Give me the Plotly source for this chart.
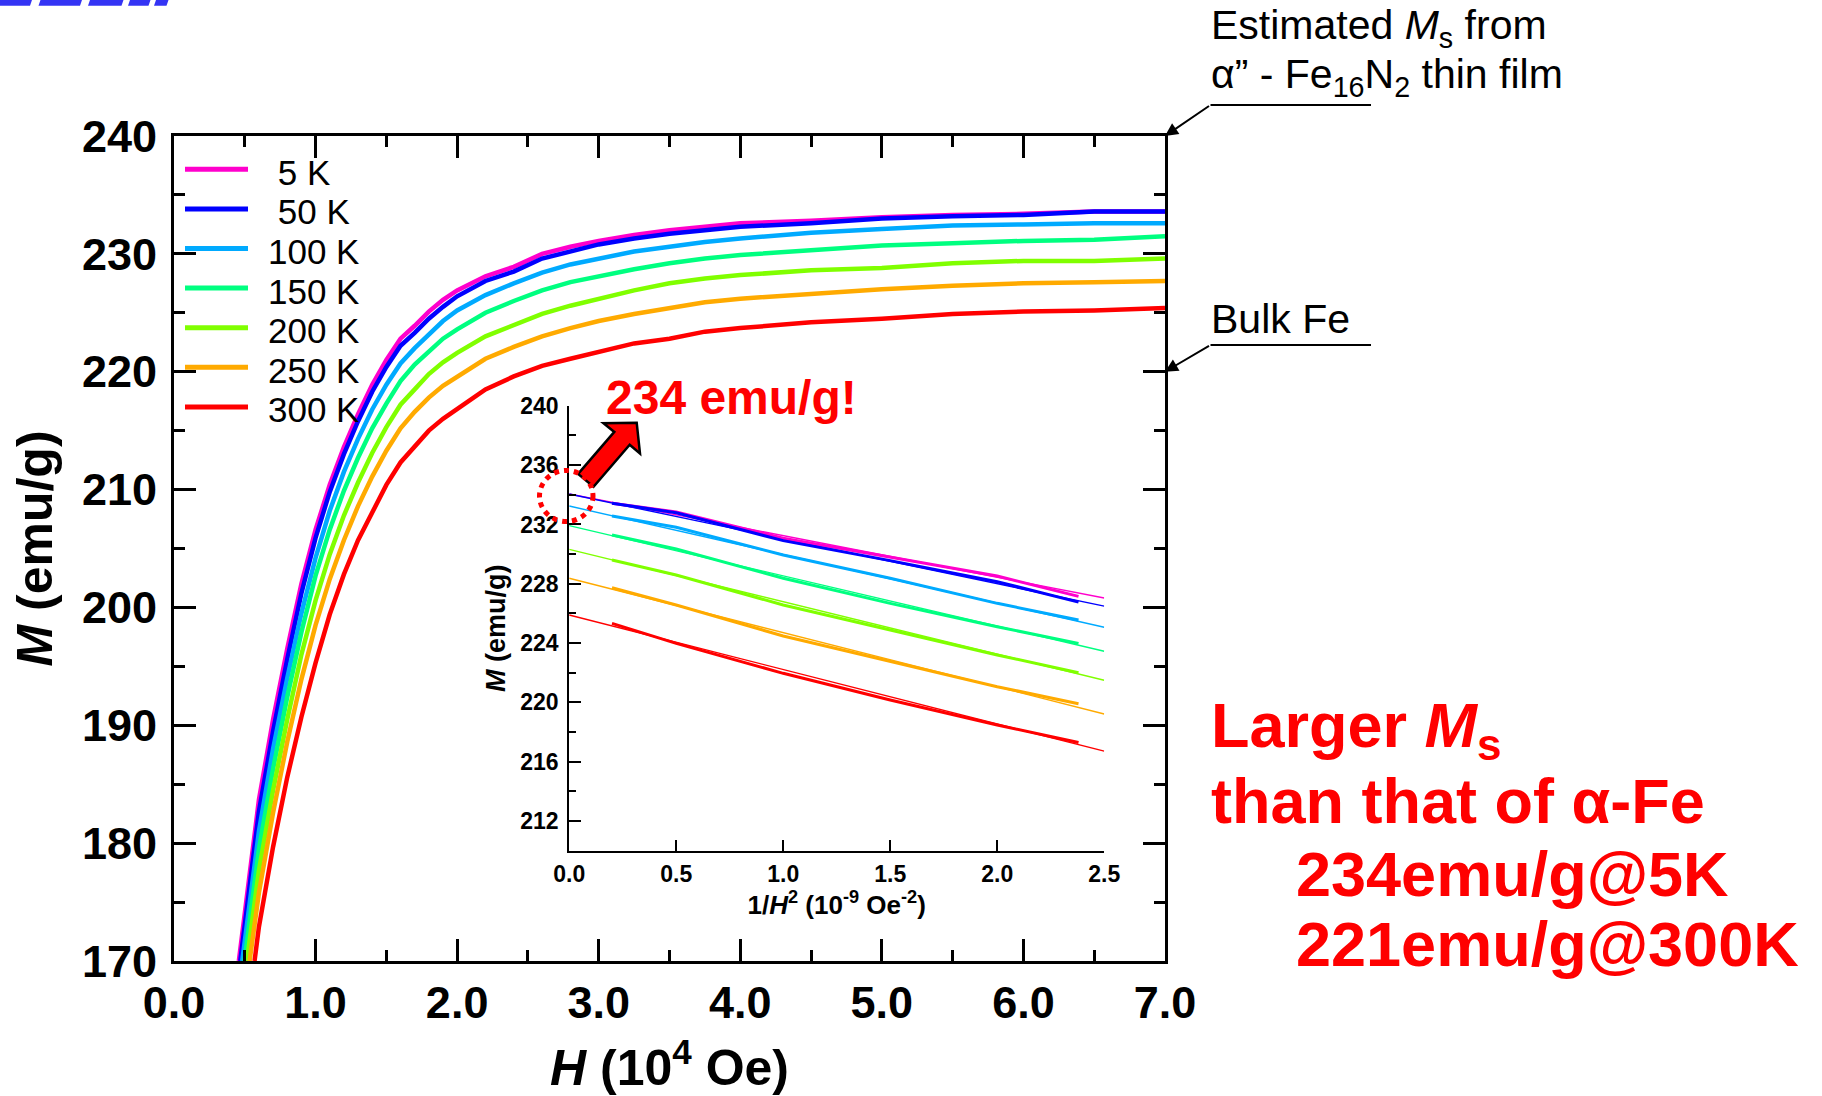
import plotly.graph_objects as go

# ---------------- data ----------------
TEMPS = ["5 K", "50 K", "100 K", "150 K", "200 K", "250 K", "300 K"]
COLORS = ["#FF00CC", "#0000FF", "#00AAFF", "#00FF80", "#80FF00", "#FFAA00", "#FF0000"]

# field (10^4 Oe) at which each M(H) curve rises through 170 emu/g
H_START = [0.458, 0.468, 0.482, 0.498, 0.515, 0.534, 0.569]

H_GRID = [0.6, 0.7, 0.8, 0.9, 1.0, 1.1, 1.2, 1.3, 1.4, 1.5, 1.6, 1.7, 1.8, 1.9, 2.0,
          2.2, 2.4, 2.6, 2.8, 3.0, 3.25, 3.5, 3.75, 4.0, 4.5, 5.0, 5.5, 6.0, 6.5, 7.0]

M_5K = [183.7, 190.5, 196.5, 202.0, 206.6, 210.4, 213.6, 216.4, 218.9, 221.0, 222.8, 223.9, 225.1, 226.1, 226.9,
        228.1, 228.9, 230.0, 230.6, 231.1, 231.6, 232.0, 232.3, 232.6, 232.8, 233.1, 233.3, 233.4, 233.6, 233.6]
M_50K = [182.7, 189.5, 195.6, 201.2, 205.9, 209.8, 213.0, 215.8, 218.3, 220.4, 222.2, 223.3, 224.5, 225.5, 226.4,
         227.7, 228.5, 229.6, 230.2, 230.8, 231.3, 231.7, 232.0, 232.3, 232.6, 233.0, 233.2, 233.3, 233.6, 233.6]
M_100K = [181.0, 188.0, 194.0, 199.5, 204.2, 208.2, 211.5, 214.3, 216.8, 218.9, 220.7, 222.0, 223.2, 224.3, 225.2,
          226.5, 227.5, 228.4, 229.1, 229.6, 230.2, 230.6, 231.0, 231.3, 231.8, 232.1, 232.4, 232.5, 232.6, 232.6]
M_150K = [179.5, 186.3, 192.4, 197.9, 202.7, 206.6, 209.9, 212.7, 215.2, 217.3, 219.2, 220.6, 221.7, 222.8, 223.6,
          225.0, 226.0, 226.9, 227.6, 228.1, 228.7, 229.2, 229.6, 229.9, 230.3, 230.7, 230.9, 231.1, 231.2, 231.5]
M_200K = [177.7, 184.5, 190.5, 196.0, 200.6, 204.5, 207.8, 210.6, 213.1, 215.3, 217.2, 218.5, 219.8, 220.8, 221.6,
          223.0, 224.0, 224.9, 225.6, 226.2, 226.9, 227.5, 227.9, 228.2, 228.6, 228.8, 229.2, 229.4, 229.4, 229.6]
M_250K = [175.8, 182.6, 188.6, 193.9, 198.5, 202.4, 205.7, 208.6, 211.1, 213.3, 215.2, 216.6, 217.8, 218.8, 219.6,
          221.1, 222.1, 223.0, 223.7, 224.3, 224.9, 225.4, 225.9, 226.2, 226.6, 227.0, 227.3, 227.5, 227.6, 227.7]
M_300K = [172.9, 179.7, 185.6, 190.7, 195.3, 199.4, 202.8, 205.7, 208.0, 210.4, 212.3, 213.7, 215.0, 216.0, 216.8,
          218.5, 219.6, 220.5, 221.1, 221.7, 222.4, 222.8, 223.4, 223.7, 224.2, 224.5, 224.9, 225.1, 225.2, 225.4]
M_CURVES = [M_5K, M_50K, M_100K, M_150K, M_200K, M_250K, M_300K]

# inset: M versus 1/H^2 (10^-9 Oe^-2)
INV_H2 = [0.2, 0.5, 1.0, 1.5, 2.0, 2.38]
D_5K = [233.43, 232.84, 231.07, 229.78, 228.52, 227.15]
D_50K = [233.43, 232.79, 230.91, 229.56, 228.14, 226.76]
D_100K = [232.57, 231.81, 229.94, 228.37, 226.68, 225.56]
D_150K = [231.29, 230.34, 228.37, 226.68, 225.10, 223.98]
D_200K = [229.60, 228.59, 226.57, 224.88, 223.20, 222.00]
D_250K = [227.73, 226.57, 224.48, 222.75, 221.06, 219.91]
D_300K = [225.33, 223.98, 221.96, 220.16, 218.48, 217.29]
D_CURVES = [D_5K, D_50K, D_100K, D_150K, D_200K, D_250K, D_300K]

# linear extrapolations: value at 1/H^2 = 0 and at 1/H^2 = 2.5
FIT_X = [0.0, 2.5]
FIT_M0 = [234.05, 234.05, 233.24, 231.92, 230.32, 228.37, 225.89]
FIT_M25 = [227.04, 226.49, 225.07, 223.45, 221.49, 219.22, 216.71]

# ---------------- layout helpers ----------------
W, HGT = 1822, 1096
ML, MR, MT, MB = 174, 657, 136, 135
PW = W - ML - MR
PH = HGT - MT - MB
FONT = "Liberation Sans, Arial, sans-serif"


def px(x):
    return (x - ML) / PW


def py(y):
    return (HGT - MB - y) / PH


fig = go.Figure()

# main M(H) curves
for name, color, h0, m in zip(TEMPS, COLORS, H_START, M_CURVES):
    fig.add_trace(go.Scatter(x=[h0] + H_GRID, y=[170] + m, mode="lines", name=name,
                             line=dict(color=color, width=4.5), showlegend=False,
                             xaxis="x", yaxis="y"))

# inset: fitted lines then measured data
for name, color, a, b in zip(TEMPS, COLORS, FIT_M0, FIT_M25):
    fig.add_trace(go.Scatter(x=FIT_X, y=[a, b], mode="lines", name=name + " fit",
                             line=dict(color=color, width=1.4), showlegend=False,
                             xaxis="x2", yaxis="y2"))
for name, color, d in zip(TEMPS, COLORS, D_CURVES):
    fig.add_trace(go.Scatter(x=INV_H2, y=d, mode="lines", name=name,
                             line=dict(color=color, width=3), showlegend=False,
                             xaxis="x2", yaxis="y2"))

shapes = []
annotations = []

# hand-built legend
for i, (name, color) in enumerate(zip(TEMPS, COLORS)):
    yrow = 169.3 + i * 39.6
    shapes.append(dict(type="line", xref="paper", yref="paper",
                       x0=px(185), x1=px(248), y0=py(yrow), y1=py(yrow),
                       line=dict(color=color, width=5)))
    label = name if len(name) >= 5 else "\u00a0" + name
    annotations.append(dict(xref="paper", yref="paper", x=px(266), y=py(yrow + 3),
                            xanchor="left", yanchor="middle", showarrow=False, text=label,
                            font=dict(family=FONT, size=35, color="black")))

# reference markers on the right axis
annotations.append(dict(xref="paper", yref="paper", x=px(1209), y=py(28),
                        xanchor="left", yanchor="middle", showarrow=False,
                        text="Estimated <i>M</i><sub>s</sub> from",
                        font=dict(family=FONT, size=41, color="black")))
annotations.append(dict(xref="paper", yref="paper", x=px(1209), y=py(77),
                        xanchor="left", yanchor="middle", showarrow=False,
                        text="\u03b1\u201d - Fe<sub>16</sub>N<sub>2</sub> thin film",
                        font=dict(family=FONT, size=41, color="black")))
annotations.append(dict(xref="paper", yref="paper", x=px(1209), y=py(319),
                        xanchor="left", yanchor="middle", showarrow=False,
                        text="Bulk Fe", font=dict(family=FONT, size=41, color="black")))
for (xa, ya), (tx, ty) in [((7.0, 240), (1210.5, 105)), ((7.0, 220), (1210.5, 345))]:
    annotations.append(dict(x=xa, y=ya, xref="x", yref="y", text="", showarrow=True,
                            ax=tx - (ML + PW), ay=ty - (MT + (240 - ya) / 70 * PH),
                            arrowhead=2, arrowsize=1.3, arrowwidth=2, arrowcolor="black",
                            standoff=0))
    shapes.append(dict(type="line", xref="paper", yref="paper",
                       x0=px(tx), x1=px(1371), y0=py(ty), y1=py(ty),
                       line=dict(color="black", width=2)))

# red statements
red_lines = [
    ("Larger <i>M</i><sub>s</sub>", 1209, 729),
    ("than that of \u03b1-Fe", 1209, 801),
    ("234emu/g@5K", 1294, 874),
    ("221emu/g@300K", 1294, 944),
]
for txt, x0, yc in red_lines:
    annotations.append(dict(xref="paper", yref="paper", x=px(x0), y=py(yc),
                            xanchor="left", yanchor="middle", showarrow=False, text=txt,
                            font=dict(family=FONT, size=63, color="#FF0000", weight="bold")))

annotations.append(dict(xref="paper", yref="paper", x=px(604), y=py(397),
                        xanchor="left", yanchor="middle", showarrow=False, text="234 emu/g!",
                        font=dict(family=FONT, size=48, color="#FF0000", weight="bold")))

# block arrow from the intercept towards the label
arrow_pts = [(578.1, 473.9), (614.3, 431.9), (603.5, 423.3), (636.7, 422.7),
             (640.0, 453.5), (629.7, 444.7), (593.5, 486.7)]
path = "M " + " L ".join(f"{px(x):.5f},{py(y):.5f}" for x, y in arrow_pts) + " Z"
shapes.append(dict(type="path", xref="paper", yref="paper", path=path,
                   fillcolor="#FF0000", line=dict(color="black", width=2.5)))

# dotted ring around the intercept
shapes.append(dict(type="circle", xref="paper", yref="paper",
                   x0=px(539.5), x1=px(593), y0=py(521.5), y1=py(470.5),
                   line=dict(color="#FF0000", width=5, dash="dot")))

# clipped header strip at the top-left corner
for xa, xb in [(-3, 30), (38.5, 80), (88, 121.5), (128, 148.5), (154, 166.5)]:
    bar = (f"M {px(xa):.5f},{py(5.7):.5f} L {px(xb):.5f},{py(5.7):.5f} "
           f"L {px(xb + 2):.5f},{py(0):.5f} L {px(xa + 2):.5f},{py(0):.5f} Z")
    shapes.append(dict(type="path", xref="paper", yref="paper", path=bar,
                       fillcolor="#3434F4", line=dict(width=0)))

axis_font = dict(family=FONT, size=45, color="black", weight="bold")
inset_font = dict(family=FONT, size=23, color="black", weight="bold")

fig.update_layout(
    width=W, height=HGT, template="none",
    margin=dict(l=ML, r=MR, t=MT, b=MB, pad=0),
    paper_bgcolor="white", plot_bgcolor="rgba(0,0,0,0)",
    font=dict(family=FONT, color="black"),
    showlegend=False,
    xaxis=dict(domain=[0, 1], range=[0, 7], dtick=1, tick0=0, tickformat=".1f",
               showline=True, linecolor="black", linewidth=2.7, mirror="ticks",
               ticks="inside", ticklen=22, tickwidth=2.5, tickcolor="black",
               minor=dict(dtick=0.5, ticks="inside", ticklen=11, tickwidth=2.5, tickcolor="black"),
               showgrid=False, zeroline=False, automargin=False,
               tickfont=axis_font, ticklabelstandoff=0,
               title=dict(text="<i>H</i> (10<sup>4</sup> Oe)",
                          font=dict(family=FONT, size=50, color="black", weight="bold"),
                          standoff=26)),
    yaxis=dict(domain=[0, 1], range=[170, 240], dtick=10, tick0=0,
               showline=True, linecolor="black", linewidth=2.7, mirror="ticks",
               ticks="inside", ticklen=22, tickwidth=2.5, tickcolor="black",
               minor=dict(dtick=5, ticks="inside", ticklen=11, tickwidth=2.5, tickcolor="black"),
               showgrid=False, zeroline=False, automargin=False,
               tickfont=axis_font, ticklabelstandoff=5,
               title=dict(text="<i>M</i> (emu/g)",
                          font=dict(family=FONT, size=50, color="black", weight="bold"),
                          standoff=14)),
    xaxis2=dict(domain=[px(569.2), px(1104.2)], range=[0, 2.5], anchor="y2",
                dtick=0.5, tick0=0, tickformat=".1f",
                showline=True, linecolor="black", linewidth=2,
                ticks="inside", ticklen=11, tickwidth=1.5, tickcolor="black",
                showgrid=False, zeroline=False, automargin=False,
                tickfont=inset_font, ticklabelstandoff=2,
                title=dict(text="1/<i>H</i><sup>2</sup> (10<sup>-9</sup> Oe<sup>-2</sup>)",
                           font=dict(family=FONT, size=26, color="black", weight="bold"),
                           standoff=4)),
    yaxis2=dict(domain=[py(850.7), py(405.8)], range=[210, 240], anchor="x2",
                dtick=4, tick0=0,
                showline=True, linecolor="black", linewidth=2,
                ticks="inside", ticklen=12, tickwidth=1.5, tickcolor="black",
                minor=dict(dtick=2, ticks="inside", ticklen=7, tickwidth=1.5, tickcolor="black"),
                showgrid=False, zeroline=False, automargin=False,
                tickfont=inset_font, ticklabelstandoff=4,
                title=dict(text="<i>M</i> (emu/g)",
                           font=dict(family=FONT, size=27, color="black", weight="bold"),
                           standoff=7)),
    shapes=shapes,
    annotations=annotations,
)

fig.write_html("out.html")
